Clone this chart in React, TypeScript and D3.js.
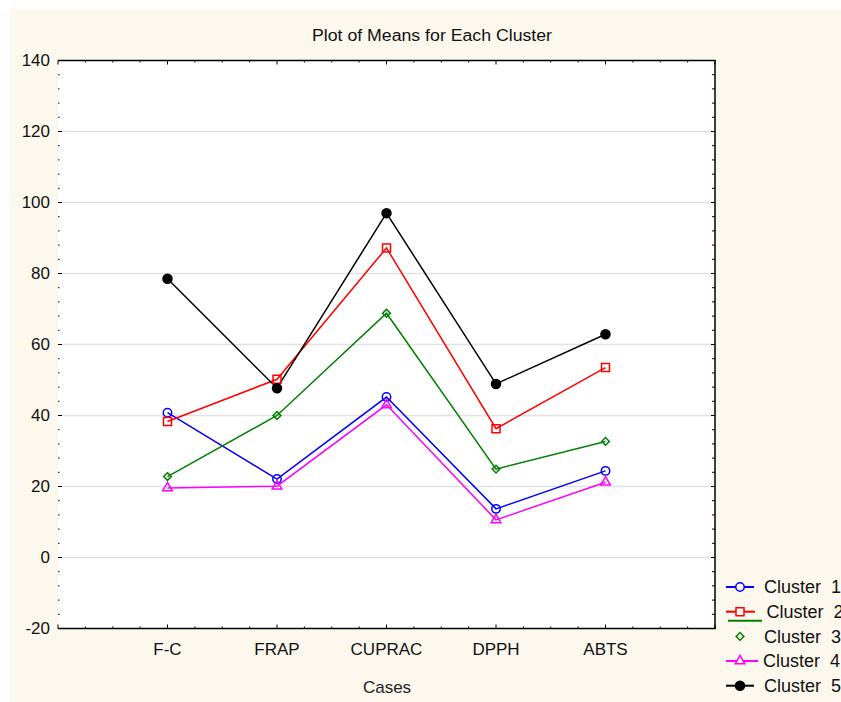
import React, { useRef, useEffect } from "react";
import * as d3 from "d3";

// data
const categories = ["F-C", "FRAP", "CUPRAC", "DPPH", "ABTS"];
const cluster1 = [40.8, 22.1, 45.2, 13.7, 24.4];
const cluster2 = [38.3, 50.2, 87.2, 36.3, 53.5];
const cluster3 = [22.8, 40.0, 68.8, 24.9, 32.7];
const cluster4 = [19.6, 20.1, 43.0, 10.6, 21.2];
const cluster5 = [78.5, 47.7, 97.0, 48.9, 62.9];
const seriesNames = ["Cluster  1", "Cluster  2", "Cluster  3", "Cluster  4", "Cluster  5"];
const yTicks = [-20, 0, 20, 40, 60, 80, 100, 120, 140];

const FONT = "'Liberation Sans', Arial, sans-serif";

const App = () => {
  const svgRef = useRef<SVGSVGElement>(null);

  useEffect(() => {
    const svg = d3.select(svgRef.current);
    svg.selectAll("*").remove();
    const width = 841,
      height = 702,
      left = 58,
      right = 715,
      top = 60.5,
      bottom = 628.5;

    const x = d3.scaleLinear().domain([0, 6]).range([left, right]);
    const y = d3.scaleLinear().domain([-20, 140]).range([bottom, top]);

    // background
    svg.append("rect").attr("width", width).attr("height", height).attr("fill", "#ffffff");
    svg.append("rect").attr("x", 10).attr("y", 9).attr("width", width - 10).attr("height", height - 9).attr("fill", "#fdf8ee");
    svg.append("rect").attr("x", left).attr("y", top).attr("width", right - left).attr("height", bottom - top).attr("fill", "#ffffff");

    // grid
    svg
      .append("g")
      .selectAll("line")
      .data(yTicks.filter((t) => t > -20 && t < 140))
      .enter()
      .append("line")
      .attr("x1", left + 4)
      .attr("x2", right)
      .attr("y1", (d) => y(d))
      .attr("y2", (d) => y(d))
      .attr("stroke", "#e2e2e2")
      .attr("stroke-width", 1.5);

    // frame: top, bottom, right (left has only ticks)
    const frame = svg.append("g").attr("stroke", "#000").attr("stroke-width", 1.5).attr("fill", "none");
    frame.append("line").attr("x1", left).attr("x2", right + 0.75).attr("y1", top).attr("y2", top);
    frame.append("line").attr("x1", left).attr("x2", right + 0.75).attr("y1", bottom).attr("y2", bottom);
    frame.append("line").attr("x1", right).attr("x2", right).attr("y1", top).attr("y2", bottom);

    // y ticks on left and right
    const yMinor = d3.range(-20, 140.1, 4);
    const ticks = svg.append("g").attr("stroke", "#000").attr("stroke-width", 1);
    yMinor.forEach((v) => {
      const major = v % 20 === 0;
      ticks.append("line").attr("x1", left).attr("x2", left + (major ? 4 : 1.5)).attr("y1", y(v)).attr("y2", y(v));
      ticks.append("line").attr("x1", right).attr("x2", right - (major ? 4 : 3)).attr("y1", y(v)).attr("y2", y(v));
    });
    // x ticks on top and bottom
    const xMinor = d3.range(0, 6.01, 0.25);
    xMinor.forEach((v) => {
      const major = Math.abs(v - Math.round(v)) < 1e-6;
      ticks.append("line").attr("x1", x(v)).attr("x2", x(v)).attr("y1", bottom).attr("y2", bottom - (major ? 4 : 2));
      ticks.append("line").attr("x1", x(v)).attr("x2", x(v)).attr("y1", top).attr("y2", top + (major ? 4 : 2));
    });

    // y tick labels
    svg
      .append("g")
      .selectAll("text")
      .data(yTicks)
      .enter()
      .append("text")
      .attr("x", 50)
      .attr("y", (d) => y(d))
      .attr("dy", "0.35em")
      .attr("text-anchor", "end")
      .attr("font-family", FONT)
      .attr("font-size", 17)
      .attr("fill", "#111")
      .text((d) => d);

    // x tick labels
    svg
      .append("g")
      .selectAll("text")
      .data(categories)
      .enter()
      .append("text")
      .attr("x", (d, i) => x(i + 1))
      .attr("y", 655)
      .attr("text-anchor", "middle")
      .attr("font-family", FONT)
      .attr("font-size", 17)
      .attr("fill", "#111")
      .text((d) => d);

    // title and axis title
    svg
      .append("text")
      .attr("x", 432)
      .attr("y", 41)
      .attr("text-anchor", "middle")
      .attr("font-family", FONT)
      .attr("font-size", 16)
      .attr("textLength", 240)
      .attr("lengthAdjust", "spacingAndGlyphs")
      .attr("fill", "#111")
      .text("Plot of Means for Each Cluster");
    svg
      .append("text")
      .attr("x", 387)
      .attr("y", 693)
      .attr("text-anchor", "middle")
      .attr("font-family", FONT)
      .attr("font-size", 17)
      .attr("fill", "#222")
      .text("Cases");

    const series = [
      { values: cluster1, color: "#0000ff", symbol: d3.symbolCircle, size: 56, filled: false, rotate: 0 },
      { values: cluster2, color: "#ff0000", symbol: d3.symbolSquare, size: 64, filled: false, rotate: 0 },
      { values: cluster3, color: "#008000", symbol: d3.symbolSquare, size: 30, filled: false, rotate: 45 },
      { values: cluster4, color: "#ff00ff", symbol: d3.symbolTriangle, size: 40, filled: false, rotate: 0 },
      { values: cluster5, color: "#000000", symbol: d3.symbolCircle, size: 64, filled: true, rotate: 0 },
    ];

    const line = d3
      .line<number>()
      .x((d, i) => x(i + 1))
      .y((d) => y(d));

    series.forEach((s) => {
      svg
        .append("path")
        .datum(s.values)
        .attr("d", line)
        .attr("fill", "none")
        .attr("stroke", s.color)
        .attr("stroke-width", 1.5);
    });
    series.forEach((s) => {
      const sym = d3.symbol().type(s.symbol).size(s.size);
      svg
        .append("g")
        .selectAll("path")
        .data(s.values)
        .enter()
        .append("path")
        .attr("d", sym)
        .attr("transform", (d, i) => `translate(${x(i + 1)},${y(d)}) rotate(${s.rotate})`)
        .attr("fill", s.filled ? s.color : "#ffffff")
        .attr("fill-opacity", s.filled ? 1 : 0)
        .attr("stroke", s.color)
        .attr("stroke-width", 1.5);
    });

    // legend
    const legY = [587, 611.7, 636.4, 661, 685.7];
    const legTextX = [764, 766.5, 764, 763, 764];
    const legLine: [number, number][] = [
      [726, 754],
      [726, 755],
      [0, 0],
      [726, 758],
      [726, 754],
    ];
    const leg = svg.append("g");
    series.forEach((s, i) => {
      if (legLine[i][1] > 0) {
        leg
          .append("line")
          .attr("x1", legLine[i][0])
          .attr("x2", legLine[i][1])
          .attr("y1", legY[i])
          .attr("y2", legY[i])
          .attr("stroke", s.color)
          .attr("stroke-width", 2);
      }
      leg
        .append("path")
        .attr("d", d3.symbol().type(s.symbol).size(s.size)())
        .attr("transform", `translate(740,${legY[i]}) rotate(${s.rotate})`)
        .attr("fill", s.filled ? s.color : "#fdf8ee")
        .attr("stroke", s.color)
        .attr("stroke-width", 1.5);
      leg
        .append("text")
        .attr("x", legTextX[i])
        .attr("y", legY[i])
        .attr("dy", "0.36em")
        .attr("font-family", FONT)
        .attr("font-size", 18)
        .attr("fill", "#111")
        .style("white-space", "pre")
        .text(seriesNames[i]);
    });
    // green stroke drawn under Cluster 2 entry
    leg
      .append("line")
      .attr("x1", 728)
      .attr("x2", 762)
      .attr("y1", 620.7)
      .attr("y2", 620.7)
      .attr("stroke", "#008000")
      .attr("stroke-width", 2);
  }, []);

  return (
    <svg
      ref={svgRef}
      width={841}
      height={702}
      style={{ position: "absolute", left: 0, top: 0, display: "block" }}
    ></svg>
  );
};

export default App;
